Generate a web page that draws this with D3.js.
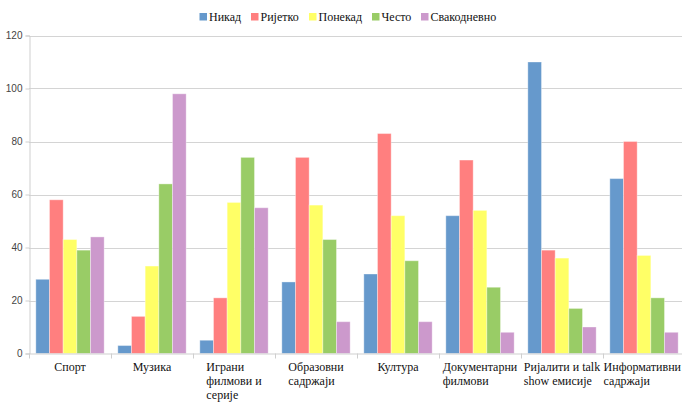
<!DOCTYPE html>
<html>
<head>
<meta charset="utf-8">
<script src="https://cdn.jsdelivr.net/npm/d3@7/dist/d3.min.js"></script>
<style>
  html, body { margin: 0; padding: 0; background: #fff; }
  svg { display: block; }
</style>
</head>
<body>
<svg id="chart" width="682" height="402"></svg>
<script>
// Categories (label lines) and answer series
const categories = [
  ["Спорт"],
  ["Музика"],
  ["Играни", "филмови и", "серије"],
  ["Образовни", "садржаји"],
  ["Култура"],
  ["Документарни", "филмови"],
  ["Ријалити и talk", "show емисије"],
  ["Информативни", "садржаји"]
];
const seriesNames = ["Никад", "Ријетко", "Понекад", "Често", "Свакодневно"];
const seriesColors = ["#6699cc", "#ff7f7f", "#ffff66", "#99cc66", "#cc99cc"];

const nikad       = [28, 3, 5, 27, 30, 52, 110, 66];
const rijetko     = [58, 14, 21, 74, 83, 73, 39, 80];
const ponekad     = [43, 33, 57, 56, 52, 54, 36, 37];
const cesto       = [39, 64, 74, 43, 35, 25, 17, 21];
const svakodnevno = [44, 98, 55, 12, 12, 8, 10, 8];
const yTicks = [0, 20, 40, 60, 80, 100, 120];

const seriesValues = [nikad, rijetko, ponekad, cesto, svakodnevno];

const SERIF = '"Liberation Serif"';
const SANS = '"Liberation Sans"';

const svg = d3.select("#chart");
const plotLeft = 29, plotRight = 685, plotTop = 35.5, plotBottom = 353.5;

const x0 = d3.scaleBand()
  .domain(d3.range(categories.length))
  .range([plotLeft, plotRight])
  .paddingInner(0).paddingOuter(0);

const x1 = d3.scaleBand()
  .domain(d3.range(seriesNames.length))
  .range([0, x0.bandwidth()])
  .paddingInner(0).paddingOuter(0.5);

const y = d3.scaleLinear().domain([0, 120]).range([plotBottom, plotTop]);

// horizontal gridlines
svg.append("g")
  .selectAll("line")
  .data(yTicks.filter(t => t > 0))
  .join("line")
  .attr("x1", plotLeft).attr("x2", 682)
  .attr("y1", d => Math.round(y(d)) + 0.5).attr("y2", d => Math.round(y(d)) + 0.5)
  .attr("stroke", "#d4d4d4").attr("stroke-width", 1);

// y axis
const yAxis = svg.append("g")
  .attr("transform", `translate(${plotLeft + 0.5},0)`)
  .call(d3.axisLeft(y).tickValues(yTicks).tickSize(4).tickPadding(3));
yAxis.select(".domain").attr("stroke", "#cfcfcf");
yAxis.selectAll(".tick line").attr("stroke", "#cfcfcf");
yAxis.selectAll(".tick text")
  .attr("fill", "#444")
  .style("font-family", SANS)
  .style("font-size", "10px");

// bars
const groups = svg.append("g")
  .selectAll("g")
  .data(categories.map((c, i) => i))
  .join("g")
  .attr("transform", i => `translate(${x0(i)},0)`);

groups.selectAll("rect")
  .data(i => seriesValues.map((vals, s) => ({ s, v: vals[i] })))
  .join("rect")
  .attr("x", d => x1(d.s))
  .attr("width", x1.bandwidth())
  .attr("y", d => y(d.v))
  .attr("height", d => y(0) - y(d.v))
  .attr("fill", d => seriesColors[d.s])
  .attr("stroke", "rgba(255,255,255,0.35)")
  .attr("stroke-width", 1);

// x axis baseline with boundary ticks
const xAxisG = svg.append("g");
xAxisG.append("line")
  .attr("x1", plotLeft).attr("x2", 682)
  .attr("y1", plotBottom + 0.5).attr("y2", plotBottom + 0.5)
  .attr("stroke", "#cfcfcf");
xAxisG.selectAll("line.tick")
  .data(d3.range(categories.length + 1))
  .join("line")
  .attr("class", "tick")
  .attr("x1", i => Math.round(plotLeft + i * x0.step()) + 0.5)
  .attr("x2", i => Math.round(plotLeft + i * x0.step()) + 0.5)
  .attr("y1", plotBottom).attr("y2", plotBottom + 5)
  .attr("stroke", "#cfcfcf");

// category labels: left-aligned block centred under each group
categories.forEach((lines, i) => {
  const g = svg.append("g");
  const texts = lines.map((ln, k) =>
    g.append("text")
      .attr("y", 370.5 + k * 14.3)
      .style("font-family", SERIF)
      .style("font-size", "12px")
      .attr("fill", "#111")
      .text(ln));
  const maxW = d3.max(texts, t => t.node().getComputedTextLength());
  const cx = x0(i) + x0.bandwidth() / 2;
  const startX = Math.min(cx - maxW / 2, 681 - maxW);
  texts.forEach(t => t.attr("x", startX));
});

// legend
const legendX = [199.5, 251, 309, 372, 421];
const legend = svg.append("g");
seriesNames.forEach((name, s) => {
  legend.append("rect")
    .attr("x", legendX[s]).attr("y", 13)
    .attr("width", 7.5).attr("height", 7.5)
    .attr("fill", seriesColors[s]);
  legend.append("text")
    .attr("x", legendX[s] + 9.5).attr("y", 21)
    .style("font-family", SERIF)
    .style("font-size", "12px")
    .attr("fill", "#111")
    .text(name);
});
</script>
</body>
</html>
